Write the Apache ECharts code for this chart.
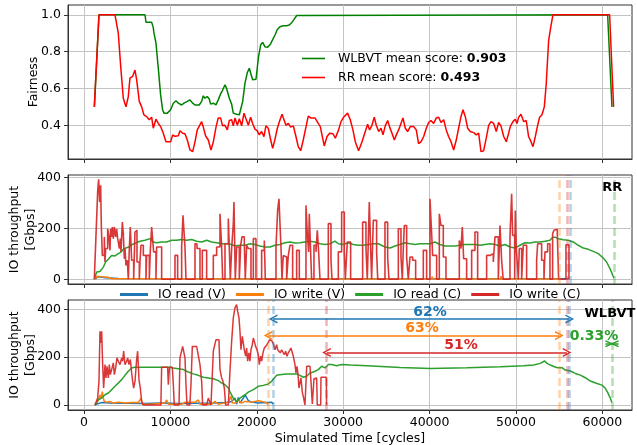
<!DOCTYPE html>
<html><head><meta charset="utf-8">
<script src="https://cdn.jsdelivr.net/npm/echarts@6/dist/echarts.min.js"></script>
<style>html,body{margin:0;padding:0;background:#fff}#c{width:637px;height:445px}</style>
</head><body><div id="c"></div>
<script>
// ---------- data ----------
const xTicks = [0,10000,20000,30000,40000,50000,60000];
const fairTicks = [0.4,0.6,0.8,1.0];
const ioTicks = [0,200,400];
const fairNames = ['WLBVT','RR'];
const meanScores = ['0.903','0.493'];
const ioNames = ['IO read (V)','IO write (V)','IO read (C)','IO write (C)'];

const wlbvtFairness = [[1200,0.50],[1736,1.0],[7060,1.0],[7180,0.96],[7830,0.96],[8020,0.93],[8100,0.90],[8330,0.847],[8600,0.71],[8870,0.565],[9100,0.484],[9260,0.466],[9640,0.466],[10030,0.484],[10340,0.52],[10650,0.533],[10920,0.52],[11110,0.53],[11300,0.51],[11570,0.52],[11960,0.53],[12270,0.538],[12580,0.52],[12850,0.51],[13340,0.51],[13620,0.53],[13810,0.56],[14000,0.547],[14270,0.556],[14500,0.543],[14660,0.515],[14970,0.52],[15280,0.511],[15540,0.538],[15810,0.57],[16040,0.59],[16320,0.62],[16510,0.60],[16820,0.547],[17090,0.515],[17280,0.466],[17670,0.46],[17980,0.457],[18130,0.448],[18370,0.53],[18640,0.63],[18900,0.685],[19130,0.71],[19290,0.70],[19520,0.647],[19680,0.637],[19910,0.65],[20180,0.764],[20450,0.837],[20680,0.85],[20950,0.826],[21220,0.823],[21530,0.837],[21840,0.865],[22110,0.89],[22380,0.92],[22690,0.935],[23070,0.94],[23460,0.94],[23760,0.944],[24040,0.957],[24310,0.975],[24620,0.996],[24800,1.0],[60610,1.0],[61110,0.50]];

const rrFairness = [[1200,0.50],[1736,1.0],[3590,1.0],[3970,0.90],[4250,0.72],[4550,0.547],[4860,0.50],[5130,0.556],[5320,0.656],[5630,0.665],[5900,0.70],[6100,0.647],[6400,0.53],[6680,0.50],[6940,0.456],[7250,0.447],[7560,0.43],[7830,0.444],[8020,0.384],[8330,0.433],[8600,0.41],[8870,0.393],[9180,0.357],[9490,0.311],[10030,0.311],[10270,0.348],[10530,0.34],[10920,0.343],[11110,0.37],[11420,0.357],[11690,0.354],[11960,0.32],[12270,0.266],[12580,0.257],[12850,0.31],[13110,0.375],[13340,0.378],[13620,0.42],[13810,0.39],[14080,0.342],[14390,0.32],[14700,0.266],[14970,0.31],[15280,0.39],[15540,0.44],[15810,0.44],[16040,0.397],[16320,0.40],[16590,0.375],[16820,0.426],[17090,0.43],[17280,0.397],[17480,0.44],[17750,0.40],[17980,0.435],[18250,0.397],[18520,0.466],[18750,0.435],[19020,0.40],[19290,0.444],[19520,0.41],[19790,0.379],[20060,0.37],[20290,0.348],[20560,0.366],[20830,0.338],[21060,0.397],[21330,0.384],[21610,0.32],[21840,0.275],[22110,0.325],[22380,0.384],[22690,0.43],[22920,0.46],[23150,0.45],[23380,0.40],[23650,0.41],[23920,0.39],[24230,0.397],[24540,0.338],[24800,0.284],[25080,0.262],[25380,0.32],[25690,0.39],[25960,0.45],[26240,0.44],[26730,0.44],[27120,0.41],[27350,0.393],[27810,0.288],[28130,0.339],[28430,0.357],[28820,0.354],[29090,0.33],[29470,0.375],[29750,0.42],[30050,0.444],[30510,0.466],[30820,0.43],[31130,0.375],[31400,0.311],[31790,0.262],[32180,0.311],[32560,0.366],[32830,0.406],[33060,0.375],[33330,0.40],[33600,0.444],[33830,0.40],[34110,0.366],[34380,0.384],[34610,0.348],[34870,0.397],[35150,0.426],[35380,0.39],[35650,0.357],[35920,0.32],[36150,0.348],[36420,0.375],[36690,0.41],[36920,0.44],[37190,0.384],[37460,0.366],[37770,0.393],[38150,0.393],[38460,0.375],[38730,0.30],[39000,0.31],[39320,0.339],[39620,0.384],[39890,0.415],[40160,0.426],[40470,0.41],[40780,0.44],[41050,0.444],[41320,0.415],[41630,0.43],[41930,0.375],[42200,0.339],[42480,0.311],[42790,0.266],[43090,0.32],[43360,0.384],[43640,0.448],[43870,0.484],[44130,0.448],[44410,0.384],[44710,0.366],[45100,0.36],[45410,0.348],[45680,0.357],[45950,0.257],[46260,0.262],[46560,0.33],[46840,0.40],[47110,0.42],[47420,0.41],[47720,0.366],[47990,0.415],[48260,0.397],[48580,0.339],[48880,0.311],[49150,0.357],[49340,0.393],[49650,0.42],[49920,0.433],[50120,0.41],[50310,0.444],[50580,0.46],[50890,0.42],[51190,0.426],[51460,0.339],[51740,0.311],[51970,0.284],[52240,0.339],[52510,0.40],[52740,0.444],[53010,0.457],[53280,0.50],[53500,0.623],[53780,0.86],[54050,0.94],[54280,1.0],[60840,1.0],[61300,0.50]];

// RR scheduler IO throughput [Gbps]
const rrReadV = [[1300,0],[1600,10],[2500,6],[4000,3],[10000,2],[30000,2],[56100,2]];
const rrWriteV = [[1300,0],[1500,12],[2000,10],[2800,8],[3200,2],[8300,2],[8400,8],[8500,1],[19400,1],[19500,8],[19600,1],[28800,1],[28900,8],[29000,1],[40200,1],[40300,10],[40400,1],[48200,1],[48300,12],[48400,1],[55000,1]];
const rrReadC = [[1190,0],[1470,29],[1850,31],[2240,48],[2510,68],[2810,79],[3200,94],[3590,92],[3970,101],[4280,107],[4550,118],[4820,123],[5210,127],[5520,136],[5980,143],[6480,150],[7060,154],[7640,160],[8020,147],[8410,144],[8990,147],[9570,147],[10150,154],[10730,154],[11300,157],[11880,154],[12460,157],[13040,150],[13620,147],[14200,154],[14780,147],[15360,144],[15940,140],[16520,140],[17090,137],[17480,131],[18060,134],[18630,134],[19210,140],[19790,137],[20370,131],[20950,127],[21530,127],[22110,134],[22690,137],[23260,144],[23840,147],[24420,143],[25000,144],[25580,147],[26160,150],[26740,147],[27310,140],[27890,137],[28470,140],[29050,150],[29440,140],[30010,137],[30590,144],[31170,137],[31750,134],[32330,134],[32910,137],[33490,140],[34070,140],[34840,127],[35420,123],[36000,131],[36570,137],[37150,144],[37730,140],[38310,137],[38890,140],[39470,140],[40050,140],[40620,147],[41200,137],[41780,131],[42360,131],[42940,131],[43520,134],[44100,137],[44680,137],[45250,137],[45830,134],[46410,137],[46990,140],[47570,137],[48150,131],[48730,137],[49310,127],[49880,123],[50460,134],[51040,144],[51620,143],[52200,147],[52780,147],[53360,150],[53940,154],[54250,166],[54510,166],[54900,160],[55480,156],[56050,154],[56630,147],[57210,134],[57790,123],[58370,118],[58950,110],[59530,101],[60100,84],[60490,68],[60880,42],[61340,5]];
const rrWriteC = [[1196,0],[1389,173],[1582,344],[1698,394],[1814,304],[1929,370],[2006,212],[2122,94],[2354,167],[2431,68],[2508,121],[2740,199],[2894,167],[3010,114],[3087,199],[3202,167],[3280,206],[3395,160],[3511,206],[3665,167],[3781,199],[3897,160],[3974,147],[4090,121],[4205,160],[4283,108],[4437,225],[4553,180],[4668,81],[4746,121],[4861,55],[5016,75],[5131,0],[5247,121],[5363,206],[5517,75],[5749,0],[5903,186],[6019,193],[6135,68],[6405,0],[6482,68],[6597,134],[6868,94],[7176,0],[7253,94],[7562,0],[7678,114],[7832,206],[8063,108],[8333,0],[8410,127],[8989,0],[10533,94],[10841,0],[11304,127],[11459,252],[11690,127],[11806,0],[12847,140],[13079,121],[13426,0],[13696,114],[14198,0],[14969,94],[15355,127],[15741,258],[15934,127],[16050,0],[16320,140],[16705,239],[16821,121],[16937,0],[17091,121],[17284,219],[17360,304],[17515,0],[17670,127],[17978,0],[18133,134],[18287,167],[18557,140],[18673,0],[18827,134],[19020,121],[19329,0],[19599,160],[19907,0],[20563,114],[20872,153],[20987,0],[22222,127],[22415,271],[22569,317],[22685,219],[22801,127],[22917,0],[23071,94],[23264,88],[23457,0],[23650,94],[23843,134],[24151,0],[24614,114],[24923,0],[25694,291],[25849,180],[26003,108],[26080,258],[26234,108],[26350,0],[26620,134],[26852,108],[27006,193],[27160,108],[27315,0],[28279,219],[28588,75],[28704,0],[29437,108],[29822,265],[30131,108],[30247,0],[30478,147],[30864,0],[32253,225],[32638,121],[32793,0],[33024,304],[33178,121],[33294,0],[33487,232],[33870,108],[34000,0],[34838,225],[35147,88],[35301,0],[36382,199],[36690,88],[36845,0],[36960,121],[37076,212],[37346,88],[37539,0],[37732,88],[38041,75],[38388,0],[39275,114],[39661,0],[40047,317],[40240,180],[40356,94],[40818,0],[41127,258],[41320,212],[41590,88],[41899,0],[43442,153],[43634,121],[43789,206],[43943,81],[44290,0],[44869,114],[45255,186],[45564,0],[46605,94],[46991,101],[47377,68],[47570,167],[47956,0],[48149,212],[48340,75],[48520,0],[49306,167],[49499,337],[49615,173],[49850,0],[49920,271],[50040,121],[50270,0],[50386,121],[50656,0],[50849,134],[51234,0],[52392,75],[52508,140],[52971,75],[53241,0],[53356,108],[53665,140],[53935,0],[54244,180],[54398,193],[54591,197],[54784,180],[54938,0],[55787,136],[56134,0]];

// WLBVT scheduler IO throughput [Gbps]
const wlReadV = [[1270,0],[1582,5],[2045,10],[3000,8],[5000,7],[7000,6],[9000,8],[11000,6],[13000,7],[15000,8],[16500,10],[17091,15],[17476,29],[17669,4],[17862,32],[18055,8],[18441,29],[18634,43],[19020,18],[19405,12],[20177,8],[21720,12],[21910,4]];
const wlWriteV = [[1273,0],[1660,21],[1852,42],[1968,28],[2122,56],[2238,28],[2354,15],[2624,12],[3010,15],[3395,8],[3974,12],[4746,8],[5517,10],[6289,10],[6598,29],[6752,3],[7832,3],[9375,8],[9568,21],[9761,3],[11304,3],[11690,12],[12847,12],[13233,21],[13426,3],[14776,3],[15162,15],[15547,3],[16705,12],[17014,36],[17168,8],[17476,8],[17862,21],[18248,8],[18634,15],[19405,12],[20177,18],[20949,12],[21334,3]];
const wlReadC = [[1270,0],[1660,22],[2045,29],[2430,43],[2820,50],[3200,64],[3590,78],[3970,92],[4360,106],[4745,124],[5130,141],[5520,155],[5830,158],[9950,158],[10340,155],[10920,152],[11500,148],[12080,138],[12650,130],[13230,124],[13810,116],[14390,113],[14970,110],[15550,102],[15930,92],[16320,85],[16710,71],[16900,55],[17280,29],[17670,15],[17860,12],[18060,29],[18250,32],[18640,43],[19020,54],[19600,64],[20180,78],[20760,82],[21340,88],[21720,99],[22030,113],[22300,124],[22880,127],[23460,130],[24040,130],[24610,130],[25000,124],[25390,116],[25770,120],[26160,134],[26540,138],[27120,148],[27510,162],[27890,155],[28280,169],[28660,169],[29240,164],[29820,169],[30830,167],[32760,164],[36610,157],[40090,153],[44330,156],[48190,160],[50890,164],[52050,167],[52820,174],[53320,184],[53590,174],[53980,167],[54440,160],[54820,156],[55330,156],[55710,146],[56290,142],[56870,132],[57450,125],[58030,114],[58600,100],[59380,90],[59950,83],[60340,70],[60610,53],[60920,28],[61110,11]];
const wlWriteC = [[1273,0],[1582,29],[1736,99],[1852,308],[1968,259],[2045,308],[2161,169],[2276,71],[2431,169],[2547,113],[2662,162],[2817,113],[2932,169],[3048,127],[3202,148],[3395,176],[3511,127],[3665,155],[3820,197],[3974,183],[4167,169],[4360,197],[4476,183],[4591,225],[4746,169],[4939,183],[5054,197],[5208,169],[5363,190],[5517,134],[5633,99],[5749,71],[5903,99],[6096,190],[6212,225],[6366,106],[6520,71],[6675,15],[6868,0],[8900,0],[8989,158],[9684,158],[9760,85],[9838,85],[9900,158],[10224,158],[10340,85],[10450,0],[11000,0],[11111,197],[11304,197],[11420,245],[11613,245],[11690,197],[11806,85],[11922,0],[12250,0],[12384,85],[12539,245],[12770,252],[13040,245],[13233,252],[13426,169],[13619,99],[13735,0],[14198,0],[14391,29],[14699,0],[14780,0],[14853,127],[14969,225],[15162,225],[15278,273],[15471,280],[15625,273],[15741,148],[15934,113],[16088,99],[16242,71],[16397,0],[16705,0],[16898,141],[17091,266],[17284,364],[17476,406],[17669,420],[17785,392],[17939,364],[18055,308],[18171,231],[18325,287],[18441,259],[18557,231],[18711,204],[18827,238],[18942,183],[19097,218],[19213,183],[19328,231],[19483,252],[19598,280],[19714,266],[19868,245],[20023,231],[20177,210],[20293,169],[20447,204],[20563,183],[20717,218],[20871,238],[21026,231],[21180,252],[21334,259],[21489,273],[21643,273],[21797,266],[21952,252],[22106,231],[22299,252],[22415,231],[22569,238],[22723,218],[22878,231],[23071,225],[23186,210],[23341,225],[23495,204],[23649,218],[23842,218],[23958,238],[24112,238],[24228,204],[24421,169],[24537,134],[24652,162],[24768,130],[24884,71],[25038,64],[25115,113],[25270,54],[25424,29],[25578,0],[25732,0],[25780,162],[26157,162],[26273,99],[26427,4],[26581,0],[26620,110],[26929,113],[27000,0],[27400,0],[27430,116],[28050,116],[28080,0]];

// annotations (data space)
const rrEndTimes = [55010, 55980, 56250, 61340];            // write V, write C, read V, read C
const wlEndTimes = [21330, 21910, 28090, 55010, 55900, 56210, 61150];
const gainArrows = [[21910,56210,360],[21330,55010,290],[28090,55900,219]]; // read V, write V, write C
const gainLabels = [['62%',40046,389],['63%',39120,322],['51%',43630,248],['0.33%',59030,289]];
const crossMark = [60350,61880,244,268];
const panelTags = [['RR',61150,359],['WLBVT',60880,380]];

// ---------- chart ----------
const FONT = 'DejaVu Sans';
const FS = 12.5;
const C = {blue:'#1f77b4', orange:'#ff7f0e', green:'#2ca02c', red:'#d62728'};
const chart = echarts.init(document.getElementById('c'), null, {renderer:'canvas'});

const gridBox = [
  {left:68, right:5, top:5, height:154},
  {left:68, right:5, top:175, height:109},
  {left:68, right:5, top:300, height:110}
].map(g => Object.assign({show:true, borderColor:'#333', borderWidth:1, backgroundColor:'#fff',
  containLabel:false, outerBoundsMode:'none'}, g));

function mkX(i, labels){
  return {type:'value', gridIndex:i, min:-1850, max:63430,
    axisLine:{show:true, onZero:false, lineStyle:{color:'#333'}},
    axisTick:{show:true, customValues:xTicks, length:4, lineStyle:{color:'#333'}},
    axisLabel:{show:labels, customValues:xTicks, fontSize:FS, color:'#000', fontFamily:FONT, margin:6, formatter: v => String(v)},
    splitLine:{show:true, lineStyle:{color:'#c4c4c4', width:1}},
    name: labels ? 'Simulated Time [cycles]' : '', nameLocation:'middle', nameGap:22, nameMoveOverlap:false,
    nameTextStyle:{fontSize:FS, color:'#000', fontFamily:FONT}};
}
function mkY(i, min, max, ticks, name, gap, fmt){
  return {type:'value', gridIndex:i, min:min, max:max,
    axisLine:{show:true, onZero:false, lineStyle:{color:'#333'}},
    axisTick:{show:true, customValues:ticks, length:4, lineStyle:{color:'#333'}},
    axisLabel:{show:true, customValues:ticks, fontSize:FS, color:'#000', fontFamily:FONT, margin:7, formatter:fmt},
    splitLine:{show:true, lineStyle:{color:'#c4c4c4', width:1}},
    name:name, nameLocation:'middle', nameRotate:90, nameGap:gap, nameMoveOverlap:false,
    nameTextStyle:{fontSize:FS, color:'#000', fontFamily:FONT, lineHeight:16}};
}

const base = {type:'line', symbol:'none', showSymbol:false, animation:false, silent:true};
function line(name, xi, data, color, extra){
  return Object.assign({}, base, {name:name, xAxisIndex:xi, yAxisIndex:xi, data:data,
    itemStyle:{color:color}, lineStyle:{color:color, width:1.5}}, extra || {});
}
const dash = (v, col) => ({xAxis:v, lineStyle:{color:col, type:[8,4], width:2.5, opacity:0.35}});
const chevron = 'path://M5,0 L10,9 L8.6,9.6 L5,3 L1.4,9.6 L0,9 Z';

const rrMarkLine = {silent:true, symbol:'none', label:{show:false}, animation:false,
  data: rrEndTimes.map((v,k) => dash(v, [C.orange, C.red, C.blue, C.green][k]))};
const rrMarkPoint = {silent:true, animation:false, symbolSize:0, itemStyle:{color:'transparent'},
  data: [panelTags[0]].map(t => ({coord:[t[1],t[2]], label:{show:true, position:'inside', formatter:t[0], fontWeight:'bold', fontSize:13, color:'#000', fontFamily:FONT}}))};

const arrowCols = [C.blue, C.orange, C.red];
const solidGreen = {color:C.green, width:1.5, type:'solid', opacity:1};
const wlMarkLine = {silent:true, symbol:'none', label:{show:false}, animation:false,
  data: wlEndTimes.map((v,k) => dash(v, [C.orange, C.blue, C.red, C.orange, C.red, C.blue, C.green][k]))
    .concat(gainArrows.map((a,k) => [
      {coord:[a[0],a[2]], symbol:chevron, symbolSize:9, lineStyle:{color:arrowCols[k], width:1.5, type:'solid', opacity:1}},
      {coord:[a[1],a[2]], symbol:chevron, symbolSize:9}
    ]))
    .concat([
      [{coord:[crossMark[0],crossMark[3]], lineStyle:solidGreen},{coord:[crossMark[1],crossMark[2]]}],
      [{coord:[crossMark[0],crossMark[2]], lineStyle:solidGreen},{coord:[crossMark[1],crossMark[3]]}],
      [{coord:[crossMark[0],(crossMark[2]+crossMark[3])/2], lineStyle:solidGreen},{coord:[crossMark[1],(crossMark[2]+crossMark[3])/2]}]
    ])};
const labelCols = [C.blue, C.orange, C.red, C.green];
const wlMarkPoint = {silent:true, animation:false, symbolSize:0, itemStyle:{color:'transparent'},
  data: gainLabels.map((t,k) => ({coord:[t[1],t[2]], label:{show:true, position:'inside', formatter:t[0], fontWeight:'bold', fontSize:14, color:labelCols[k], fontFamily:FONT}}))
   .concat([{coord:[panelTags[1][1],panelTags[1][2]], label:{show:true, position:'inside', formatter:panelTags[1][0], fontWeight:'bold', fontSize:13, color:'#000', fontFamily:FONT}}])};

const option = {
  backgroundColor:'#fff',
  animation:false,
  textStyle:{fontFamily:FONT},
  grid: gridBox,
  xAxis:[mkX(0,false), mkX(1,false), mkX(2,true)],
  yAxis:[
    mkY(0, 0.217, 1.053, fairTicks, 'Fairness', 26, v => v.toFixed(1)),
    mkY(1, -18.5, 410.6, ioTicks, 'IO throughput\n[Gbps]', 29, v => String(v)),
    mkY(2, -20.9, 438.9, ioTicks, 'IO throughput\n[Gbps]', 29, v => String(v))
  ],
  legend:[
    {data:fairNames, orient:'vertical', left:297, top:46, icon:'rect', itemWidth:23, itemHeight:1.6, itemGap:4,
     selectedMode:false,
     formatter: n => n + ' mean score: {b|' + meanScores[fairNames.indexOf(n)] + '}',
     textStyle:{fontSize:FS, color:'#000', fontFamily:FONT, lineHeight:15, padding:[0,0,0,8],
       rich:{b:{fontSize:FS, fontWeight:'bold', color:'#000', fontFamily:FONT, lineHeight:15}}}},
    {data:ioNames, orient:'horizontal', left:115, top:283, icon:'rect', itemWidth:28, itemHeight:3, itemGap:10,
     selectedMode:false,
     textStyle:{fontSize:FS, color:'#000', fontFamily:FONT, padding:[0,0,0,5]}}
  ],
  series:[
    line(fairNames[0], 0, wlbvtFairness, '#008000'),
    line(fairNames[1], 0, rrFairness, '#ff0000'),
    line(ioNames[0], 1, rrReadV, C.blue),
    line(ioNames[1], 1, rrWriteV, C.orange),
    line(ioNames[2], 1, rrReadC, C.green, {markLine:rrMarkLine, markPoint:rrMarkPoint}),
    line(ioNames[3], 1, rrWriteC, C.red, {step:'end', lineStyle:{color:C.red, width:1.6, opacity:0.92}}),
    line(ioNames[0], 2, wlReadV, C.blue),
    line(ioNames[1], 2, wlWriteV, C.orange),
    line(ioNames[2], 2, wlReadC, C.green, {markLine:wlMarkLine, markPoint:wlMarkPoint}),
    line(ioNames[3], 2, wlWriteC, C.red, {lineStyle:{color:C.red, width:1.5, opacity:0.92}})
  ]
};
chart.setOption(option);
</script>
</body></html>
